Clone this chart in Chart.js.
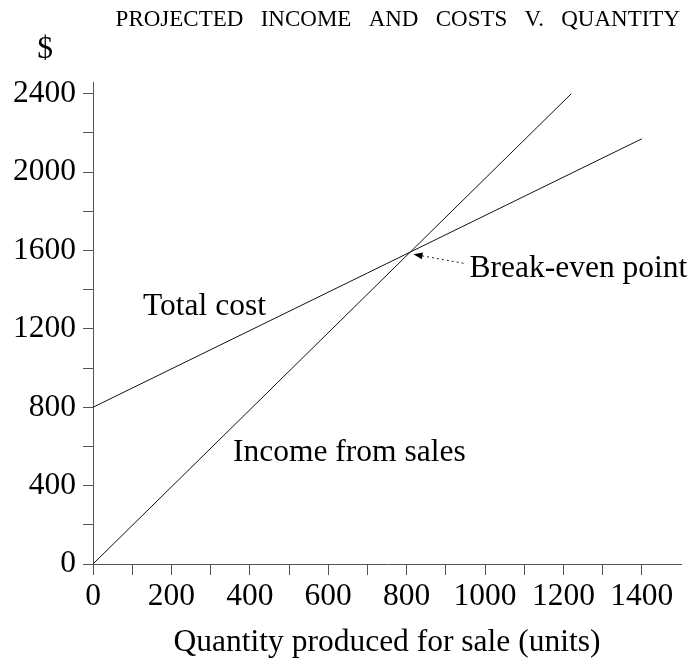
<!DOCTYPE html>
<html>
<head>
<meta charset="utf-8">
<script src="https://cdn.jsdelivr.net/npm/chart.js@4.4.1/dist/chart.umd.min.js"></script>
<style>
body{margin:0;background:#fff;}
#wrap{width:695px;height:660px;}
</style>
</head>
<body>
<div id="wrap"><canvas id="chart" width="695" height="660"></canvas></div>
<script>
// values
const incomeQty = [0, 1220];
const incomeVals = [0, 2400];
const costQty = [0, 1400];
const costVals = [800, 2170];
const breakEven = [810, 1596];
const xTicks = [0, 100, 200, 300, 400, 500, 600, 700, 800, 900, 1000, 1100, 1200, 1300, 1400];
const yTicks = [0, 200, 400, 600, 800, 1000, 1200, 1400, 1600, 1800, 2000, 2200, 2400];
const xMax = 1500;
const yMax = 2460;

const serif = "'Liberation Serif', 'Times New Roman', serif";

function toPoints(xs, ys){
    let pts = [];
    for (let i = 0; i < xs.length; i++){
        pts.push({x: xs[i], y: ys[i]});
    }
    return pts;
}

// title, "$", line labels and the break-even arrow
const notes = {
    id: 'notes',
    afterDraw(chart){
        const ctx = chart.ctx;
        const xs = chart.scales.x, ys = chart.scales.y;
        ctx.save();
        ctx.fillStyle = '#000';
        ctx.textBaseline = 'alphabetic';

        ctx.font = '23px ' + serif;
        ctx.textAlign = 'right';
        ctx.fillText('PROJECTED   INCOME   AND   COSTS   V.   QUANTITY', 680, 26);

        ctx.font = '31.5px ' + serif;
        ctx.textAlign = 'center';
        ctx.fillText('$', 45, 58);

        ctx.textAlign = 'left';
        ctx.fillText('Total cost', 143, 315);
        ctx.fillText('Income from sales', 233, 461);

        let px = xs.getPixelForValue(breakEven[0]);
        let py = ys.getPixelForValue(breakEven[1]);
        ctx.fillText('Break-even point', px + 59, py + 26);

        let tipX = px + 3, tipY = py + 3;
        let tailX = px + 53, tailY = py + 12;
        let ang = Math.atan2(tailY - tipY, tailX - tipX);
        ctx.strokeStyle = '#222';
        ctx.lineWidth = 1;
        ctx.setLineDash([2, 3]);
        ctx.beginPath();
        ctx.moveTo(tailX, tailY);
        ctx.lineTo(tipX + 8 * Math.cos(ang), tipY + 8 * Math.sin(ang));
        ctx.stroke();
        ctx.setLineDash([]);
        ctx.beginPath();
        ctx.moveTo(tipX, tipY);
        ctx.lineTo(tipX + 9 * Math.cos(ang) - 3.5 * Math.sin(ang), tipY + 9 * Math.sin(ang) + 3.5 * Math.cos(ang));
        ctx.lineTo(tipX + 9 * Math.cos(ang) + 3.5 * Math.sin(ang), tipY + 9 * Math.sin(ang) - 3.5 * Math.cos(ang));
        ctx.closePath();
        ctx.fill();
        ctx.restore();
    }
};

new Chart(document.getElementById('chart').getContext('2d'), {
    type: 'scatter',
    data: {
        datasets: [{
            label: 'Income from sales',
            data: toPoints(incomeQty, incomeVals),
            showLine: true,
            borderColor: '#111',
            borderWidth: 1,
            pointRadius: 0
        }, {
            label: 'Total cost',
            data: toPoints(costQty, costVals),
            showLine: true,
            borderColor: '#111',
            borderWidth: 1,
            pointRadius: 0
        }]
    },
    options: {
        responsive: false,
        animation: false,
        layout: {padding: {top: 82, right: 14, left: 0, bottom: 0}},
        plugins: {legend: {display: false}, tooltip: {enabled: false}},
        scales: {
            x: {
                type: 'linear',
                min: 0,
                max: xMax,
                afterBuildTicks: function(scale){ scale.ticks = xTicks.map(v => ({value: v})); },
                afterFit: function(scale){ scale.height = 96; },
                border: {display: true, color: '#555', width: 1},
                grid: {drawOnChartArea: false, drawTicks: true, tickLength: 11, tickColor: '#555'},
                ticks: {
                    autoSkip: false,
                    maxRotation: 0,
                    padding: 3,
                    color: '#000',
                    font: {family: serif, size: 31.5},
                    callback: function(v){ return v % 200 === 0 ? String(v) : ''; }
                },
                title: {
                    display: true,
                    text: 'Quantity produced for sale (units)',
                    color: '#000',
                    font: {family: serif, size: 31.5, lineHeight: 1},
                    padding: {top: 0, bottom: 2}
                }
            },
            y: {
                type: 'linear',
                min: 0,
                max: yMax,
                afterBuildTicks: function(scale){ scale.ticks = yTicks.map(v => ({value: v})); },
                afterFit: function(scale){ scale.width = 93; },
                border: {display: true, color: '#555', width: 1},
                grid: {drawOnChartArea: false, drawTicks: true, tickLength: 10, tickColor: '#555'},
                ticks: {
                    autoSkip: false,
                    padding: 7,
                    color: '#000',
                    font: {family: serif, size: 31.5},
                    callback: function(v){ return v % 400 === 0 ? String(v) : ''; }
                }
            }
        }
    },
    plugins: [notes]
});
</script>
</body>
</html>
